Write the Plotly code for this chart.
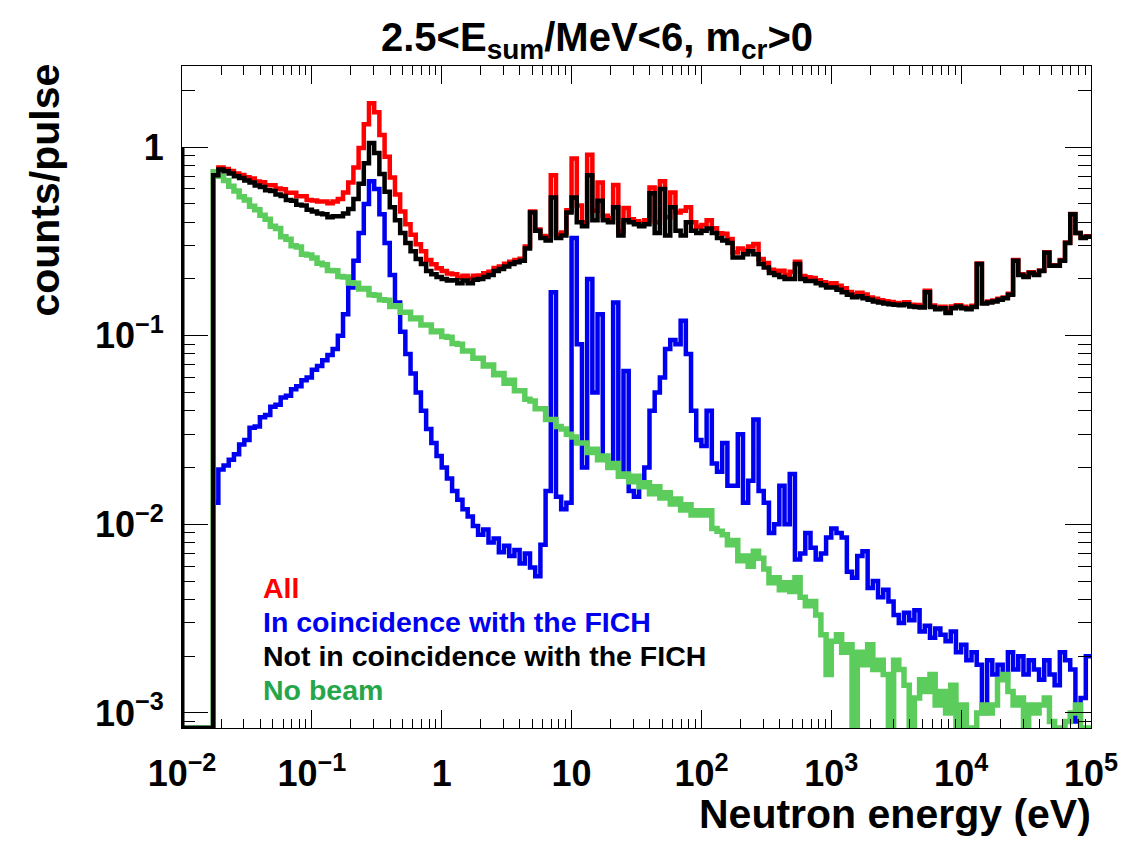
import numpy as np
import plotly.graph_objects as go

# ---------------------------------------------------------------------------
# Histogram binning: 25 log-uniform bins per decade from 1e-2 eV to 1e5 eV
# ---------------------------------------------------------------------------
BINS_PER_DECADE = 25
E_MIN_EXP, E_MAX_EXP = -2, 5

# counts/pulse per bin, one row per decade of neutron energy
not_coinc = [
    0, 0, 0, 0, 0, 0, 0.71, 0.76, 0.745, 0.725, 0.70, 0.685, 0.665, 0.65, 0.625, 0.615, 0.59, 0.585, 0.56, 0.55, 0.525, 0.52, 0.495, 0.49, 0.465,
    0.455, 0.445, 0.44, 0.425, 0.43, 0.43, 0.445, 0.47, 0.53, 0.64, 0.82, 1.05, 0.93, 0.72, 0.58, 0.48, 0.41, 0.35, 0.31, 0.28, 0.255, 0.24, 0.22, 0.212, 0.205,
    0.20, 0.196, 0.197, 0.19, 0.196, 0.19, 0.198, 0.20, 0.205, 0.21, 0.22, 0.226, 0.233, 0.24, 0.245, 0.25, 0.29, 0.45, 0.36, 0.33, 0.32, 0.54, 0.33, 0.34, 0.45,
    0.54, 0.40, 0.38, 0.71, 0.41, 0.52, 0.41, 0.40, 0.48, 0.34, 0.41, 0.40, 0.39, 0.38, 0.39, 0.57, 0.35, 0.60, 0.34, 0.48, 0.36, 0.34, 0.40, 0.36, 0.35,
    0.36, 0.37, 0.35, 0.33, 0.32, 0.31, 0.26, 0.26, 0.27, 0.28, 0.27, 0.24, 0.23, 0.215, 0.21, 0.205, 0.20, 0.20, 0.24, 0.20, 0.195, 0.195, 0.19, 0.185, 0.18,
    0.18, 0.175, 0.17, 0.165, 0.16, 0.162, 0.158, 0.155, 0.152, 0.15, 0.148, 0.147, 0.146, 0.145, 0.147, 0.143, 0.142, 0.141, 0.17, 0.142, 0.138, 0.14, 0.132, 0.14, 0.143,
    0.14, 0.138, 0.142, 0.24, 0.148, 0.15, 0.152, 0.155, 0.158, 0.165, 0.25, 0.21, 0.205, 0.215, 0.21, 0.22, 0.275, 0.235, 0.235, 0.25, 0.31, 0.44, 0.35, 0.33, 0.335,
]

coinc = [
    0, 0, 0, 0, 0, 0, 0.013, 0.0195, 0.0205, 0.022, 0.0235, 0.0265, 0.028, 0.0325, 0.033, 0.037, 0.038, 0.042, 0.043, 0.047, 0.048, 0.052, 0.054, 0.058, 0.06,
    0.066, 0.069, 0.074, 0.079, 0.085, 0.10, 0.13, 0.18, 0.25, 0.35, 0.50, 0.66, 0.60, 0.44, 0.31, 0.21, 0.15, 0.105, 0.08, 0.063, 0.05, 0.04, 0.032, 0.027, 0.023,
    0.020, 0.0175, 0.015, 0.0135, 0.012, 0.011, 0.0098, 0.0088, 0.0094, 0.0080, 0.0084, 0.0071, 0.0077, 0.0068, 0.0073, 0.0062, 0.0070, 0.0059, 0.0053, 0.0078, 0.015, 0.17, 0.014, 0.012, 0.013,
    0.33, 0.09, 0.02, 0.20, 0.05, 0.13, 0.022, 0.02, 0.15, 0.018, 0.065, 0.015, 0.014, 0.016, 0.02, 0.04, 0.05, 0.06, 0.085, 0.095, 0.09, 0.12, 0.08, 0.04, 0.028,
    0.026, 0.04, 0.021, 0.019, 0.027, 0.016, 0.016, 0.03, 0.013, 0.017, 0.036, 0.015, 0.013, 0.009, 0.01, 0.016, 0.01, 0.0185, 0.0065, 0.007, 0.009, 0.0075, 0.0065, 0.007, 0.0085,
    0.0095, 0.009, 0.0085, 0.0056, 0.0052, 0.0068, 0.0072, 0.0046, 0.005, 0.0041, 0.0045, 0.0039, 0.0033, 0.003, 0.0034, 0.0031, 0.0035, 0.0027, 0.0029, 0.0025, 0.0028, 0.0026, 0.0024, 0.0027, 0.0021,
    0.0023, 0.0019, 0.0021, 0.0018, 0.0010, 0.0019, 0.0016, 0.0018, 0.0015, 0.0021, 0.0017, 0.002, 0.0016, 0.0019, 0.0017, 0.0015, 0.0019, 0.0016, 0.0014, 0.0021, 0.0019, 0.0017, 0.0009, 0.0012, 0.002,
]

no_beam = [
    0, 0, 0, 0, 0, 0, 0.74, 0.70, 0.665, 0.62, 0.585, 0.545, 0.525, 0.485, 0.465, 0.435, 0.415, 0.38, 0.37, 0.335, 0.325, 0.30, 0.295, 0.27, 0.268,
    0.258, 0.242, 0.238, 0.222, 0.221, 0.206, 0.205, 0.191, 0.19, 0.177, 0.178, 0.165, 0.164, 0.155, 0.154, 0.143, 0.144, 0.133, 0.133, 0.123, 0.124, 0.114, 0.114, 0.105, 0.106,
    0.099, 0.098, 0.091, 0.090, 0.083, 0.083, 0.076, 0.076, 0.069, 0.070, 0.062, 0.063, 0.056, 0.058, 0.051, 0.051, 0.046, 0.045, 0.041, 0.041, 0.036, 0.036, 0.033, 0.032, 0.030,
    0.029, 0.027, 0.027, 0.024, 0.025, 0.022, 0.023, 0.020, 0.021, 0.018, 0.0185, 0.0168, 0.018, 0.0158, 0.0166, 0.0145, 0.0158, 0.0138, 0.0147, 0.0128, 0.0136, 0.0119, 0.0127, 0.0112, 0.0118,
    0.0112, 0.0118, 0.0095, 0.0092, 0.0088, 0.0078, 0.0082, 0.0064, 0.0068, 0.006, 0.0072, 0.0066, 0.0058, 0.0049, 0.0052, 0.0045, 0.0049, 0.0044, 0.0052, 0.0041, 0.0037, 0.0039, 0.0033, 0.0026, 0.0016,
    0.0024, 0.0026, 0.0021, 0.0023, 0, 0.0021, 0.0018, 0.0023, 0.0017, 0.0019, 0.0016, 0, 0.0019, 0.0017, 0.0014, 0, 0.0012, 0.0015, 0.0013, 0.0016, 0.0011, 0.0013, 0.0010, 0.0014, 0,
    0.0011, 0, 0, 0.0010, 0.0011, 0.0010, 0.0011, 0.0015, 0.0016, 0.0013, 0.0011, 0.0012, 0, 0.0011, 0.0010, 0.0011, 0.0012, 0.0009, 0, 0, 0.0009, 0.0010, 0.0011, 0, 0,
]

x_tick_vals = [1e-2, 1e-1, 1, 10, 1e2, 1e3, 1e4, 1e5]
x_tick_text = ["10<sup>\u22122</sup>", "10<sup>\u22121</sup>", "1", "10",
               "10<sup>2</sup>", "10<sup>3</sup>", "10<sup>4</sup>", "10<sup>5</sup>"]
y_tick_vals = [1e-3, 1e-2, 1e-1, 1]
y_tick_text = ["10<sup>\u22123</sup>", "10<sup>\u22122</sup>", "10<sup>\u22121</sup>", "1"]

legend_labels = ["All", "In coincidence with the FICH",
                 "Not in coincidence with the FICH", "No beam"]

# ---------------------------------------------------------------------------
not_coinc = np.array(not_coinc, dtype=float)
coinc = np.array(coinc, dtype=float)
no_beam = np.array(no_beam, dtype=float)
all_counts = not_coinc + coinc          # All = in + not in coincidence

n_bins = len(not_coinc)
edges = 10.0 ** (E_MIN_EXP + np.arange(n_bins + 1) / BINS_PER_DECADE)

Y_LOG_RANGE = [-3.08, 0.43]
floor = 10.0 ** Y_LOG_RANGE[0]          # empty bins sit on the frame bottom


def step(vals):
    v = np.where(vals > 0, vals, floor)
    return edges, np.append(v, v[-1])


RED, BLUE, BLACK, GREEN = "#FF0000", "#0000F0", "#000000", "#5CCD5C"
GREEN_TEXT = "#25A64A"

fig = go.Figure()
for vals, col, w, name in [(all_counts, RED, 4.5, legend_labels[0]),
                           (coinc, BLUE, 4.5, legend_labels[1]),
                           (no_beam, GREEN, 5.5, legend_labels[3]),
                           (not_coinc, BLACK, 4.5, legend_labels[2])]:
    xs, ys = step(vals)
    fig.add_trace(go.Scatter(x=xs, y=ys, mode="lines", name=name,
                             line=dict(color=col, width=w, shape="hv"),
                             showlegend=False, hoverinfo="skip"))

# thick left edge of the frame drawn by the histogram painter
fig.add_trace(go.Scatter(x=[edges[0], edges[0]], y=[floor, 1.0], mode="lines",
                         line=dict(color=BLACK, width=5), showlegend=False,
                         hoverinfo="skip"))

W, H = 1130, 842
ML, MR, MT, MB = 182, 32, 66, 114


def px(x):
    return (x - ML) / (W - ML - MR)


def py(y):
    return (H - MB - y) / (H - MT - MB)


minor_x = [k * 10.0 ** d for d in range(E_MIN_EXP, E_MAX_EXP) for k in range(2, 10)]
minor_y = [k * 10.0 ** d for d in range(-4, 1) for k in range(2, 10)]

FONT = "Liberation Sans, Arial, Helvetica, sans-serif"
tickfont = dict(family=FONT, size=36, color="black", weight="bold")

fig.update_xaxes(type="log", range=[E_MIN_EXP, E_MAX_EXP], showgrid=False,
                 zeroline=False, showline=True, linecolor="black", linewidth=1,
                 mirror="allticks", ticks="inside", ticklen=18, tickwidth=1,
                 tickcolor="black", tickmode="array", tickvals=x_tick_vals,
                 ticktext=x_tick_text, tickfont=tickfont, ticklabelstandoff=14,
                 minor=dict(ticks="inside", ticklen=9, tickwidth=1,
                            tickcolor="black", tickmode="array",
                            tickvals=minor_x, showgrid=False))
fig.update_yaxes(type="log", range=Y_LOG_RANGE, showgrid=False,
                 zeroline=False, showline=True, linecolor="black", linewidth=1,
                 mirror="allticks", ticks="inside", ticklen=26, tickwidth=1,
                 tickcolor="black", tickmode="array", tickvals=y_tick_vals,
                 ticktext=y_tick_text, tickfont=tickfont, ticklabelstandoff=10,
                 minor=dict(ticks="inside", ticklen=13, tickwidth=1,
                            tickcolor="black", tickmode="array",
                            tickvals=minor_y, showgrid=False))

annotations = [
    dict(text="<b>2.5&lt;E<sub>sum</sub>/MeV&lt;6, m<sub>cr</sub>&gt;0</b>",
         x=px(600), y=py(40), xanchor="center", yanchor="middle",
         font=dict(family=FONT, size=40, color="black")),
    dict(text="<b>Neutron energy (eV)</b>", x=px(1100), y=py(814),
         xanchor="right", yanchor="middle",
         font=dict(family=FONT, size=41, color="black")),
    dict(text="<b>counts/pulse</b>", x=px(43), y=py(62), textangle=-90,
         xanchor="center", yanchor="top",
         font=dict(family=FONT, size=41, color="black")),
]
for label, col, yc in zip(legend_labels, [RED, BLUE, BLACK, GREEN_TEXT],
                          [588, 622, 656, 690]):
    annotations.append(dict(text=f"<b>{label}</b>", x=px(262), y=py(yc),
                            xanchor="left", yanchor="middle",
                            font=dict(family=FONT, size=28.5, color=col)))
for a in annotations:
    a.update(xref="paper", yref="paper", showarrow=False)

fig.update_layout(width=W, height=H, margin=dict(l=ML, r=MR, t=MT, b=MB),
                  plot_bgcolor="white", paper_bgcolor="white",
                  annotations=annotations, showlegend=False)

fig.write_html("out.html")
